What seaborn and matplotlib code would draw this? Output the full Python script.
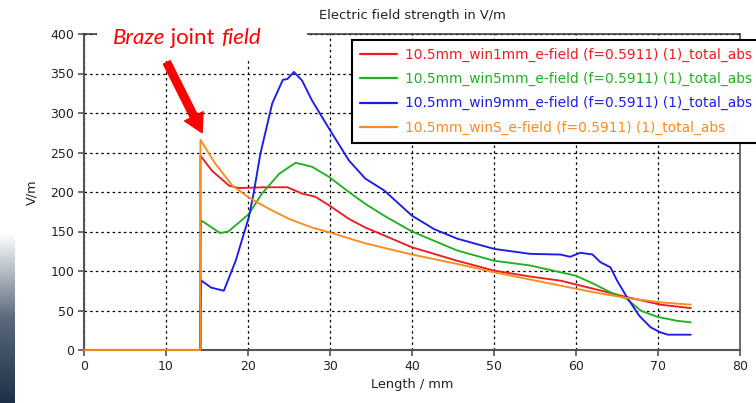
import numpy as np
import pandas as pd
import matplotlib
matplotlib.use("Agg")
import matplotlib.pyplot as plt
import seaborn as sns
from matplotlib.patches import Rectangle
from matplotlib.colors import LinearSegmentedColormap

# ---------------- data ----------------
labels = [
    "10.5mm_win1mm_e-field (f=0.5911) (1)_total_abs",
    "10.5mm_win5mm_e-field (f=0.5911) (1)_total_abs",
    "10.5mm_win9mm_e-field (f=0.5911) (1)_total_abs",
    "10.5mm_winS_e-field (f=0.5911) (1)_total_abs",
]
colors = ["#ec1c24", "#22b022", "#1c1ce6", "#ff8a1e"]

red_x = [0, 14.2, 14.2, 15.6, 17.7, 18.9, 22, 24.8, 26.6, 28.2, 29.9, 32.3, 34.3,
         36.6, 40, 45.5, 50, 54.4, 58.1, 62.2, 66.2, 70.3, 74]
red_y = [0, 0, 246, 227, 208, 205, 206, 206, 198, 194, 183, 166, 155,
         145, 130, 113, 100.5, 93, 87.8, 77.3, 67, 57.4, 53]

green_x = [0, 14.2, 14.2, 14.3, 16.6, 17.6, 20.1, 21.7, 23.8, 25.8, 27.8, 29.9, 32.3,
           34.3, 36.6, 40, 45.5, 50, 54.4, 58.1, 60, 62.2, 64.2, 66.2, 67.9, 69.9, 72.3, 74]
green_y = [0, 0, 130, 164, 148, 150, 172, 198, 223, 237, 232, 219, 200,
           185, 170, 150, 126, 113, 107, 98.4, 94, 83.6, 73, 64.6, 49.8, 42, 37, 35]

blue_x = [0, 14.2, 14.2, 14.3, 15.5, 17.05, 18.5, 20.1, 20.7, 21.5, 22.95, 24.25, 24.8,
          25.6, 26.6, 27.8, 29.9, 32.3, 34.3, 36.6, 40, 42.7, 45.5, 50, 54.4, 58.1,
          59.3, 60.5, 62, 63, 64.2, 65, 66.2, 67.7, 69.1, 70.3, 71.2, 74]
blue_y = [0, 0, 45, 88, 79, 75, 113, 168, 199, 248, 312, 342, 343,
          352, 341, 316, 280, 240, 217, 202, 170, 153, 141, 128, 121.7, 120.8,
          118, 123, 121, 111, 104.7, 88, 67, 43.5, 28.7, 22.3, 19.4, 19.4]

orange_x = [0, 14.2, 14.2, 16.0, 18.1, 20.1, 22.5, 25, 27.8, 29.9, 34.3, 40, 45.5,
            50, 58.1, 62.2, 66.2, 70.3, 74]
orange_y = [0, 0, 266, 236, 208, 193, 179, 166, 155, 149, 135, 120.8, 109,
            98.4, 81.5, 73, 65.8, 60.3, 57.4]

x_ticks = [0, 10, 20, 30, 40, 50, 60, 70, 80]
y_ticks = [0, 50, 100, 150, 200, 250, 300, 350, 400]

title_text = "Electric field strength in V/m"
xlabel_text = "Length / mm"
ylabel_text = "V/m"
annot_parts = [("Braze", "italic"), (" joint ", "normal"), ("field", "italic")]
arrow_tail = (10.1, 364)
arrow_tip = (14.4, 275)

# ---------------- build frame ----------------
series = [(red_x, red_y), (green_x, green_y), (blue_x, blue_y), (orange_x, orange_y)]
frames = []
for lab, (xs, ys) in zip(labels, series):
    frames.append(pd.DataFrame({"Length": xs, "Value": ys, "series": lab}))
df = pd.concat(frames, ignore_index=True)

sns.set_theme(style="white")
plt.rcParams["font.family"] = ["DejaVu Sans"]

fig = plt.figure(figsize=(7.56, 4.03), dpi=100)
ax = fig.add_axes([84 / 756, 1 - 350 / 403, (740 - 84) / 756, (350 - 34) / 403])

sns.lineplot(data=df, x="Length", y="Value", hue="series", hue_order=labels,
             palette=dict(zip(labels, colors)), estimator=None, sort=False,
             linewidth=1.35, ax=ax)
for ln in ax.get_lines():
    ln.set_zorder(3)
    ln.set_clip_on(False)

ax.set_xlim(0, 80)
ax.set_ylim(0, 400)
ax.set_xticks(x_ticks)
ax.set_yticks(y_ticks)
ax.tick_params(axis="both", direction="out", length=4, width=1.2, colors="#555555",
               labelsize=9, labelcolor="#222222", bottom=True, left=True, pad=3)
ax.grid(True, color="black", linestyle=(0, (2, 2.5)), linewidth=0.9)
ax.set_axisbelow(True)
for s in ax.spines.values():
    s.set_visible(True)
    s.set_color("#555555")
    s.set_linewidth(1.5)
ax.spines["top"].set_color("#333333")
ax.spines["top"].set_linewidth(1.1)
ax.spines["right"].set_color("#444444")
ax.spines["right"].set_linewidth(1.1)

ax.set_xlabel(xlabel_text, fontsize=9.3, color="#222222", labelpad=4)
ax.set_ylabel(ylabel_text, fontsize=9.3, color="#222222", labelpad=9)
ax.set_title(title_text, fontsize=9.4, color="#222222", pad=11)

# legend (its frame runs past the right edge of the figure, as in the source)
leg_top = 1 - 40 / 403
leg = ax.legend(loc="upper left",
                bbox_to_anchor=(352 / 756, leg_top - 0.3, 420 / 756, 0.3),
                bbox_transform=fig.transFigure, mode="expand",
                fontsize=9.9, frameon=True,
                fancybox=False, framealpha=1, edgecolor="black", facecolor="white",
                handlelength=2.7, handletextpad=0.55, labelspacing=0.72,
                borderpad=0.6, borderaxespad=0)
leg.get_frame().set_linewidth(1.5)
leg.set_zorder(8)
for t, l in zip(leg.get_texts(), leg.get_lines()):
    t.set_color(l.get_color())
    l.set_linewidth(1.6)

# white box behind annotation
fig.add_artist(Rectangle((97 / 756, 1 - 58 / 403), 210 / 756, 40 / 403,
                         transform=fig.transFigure, facecolor="white",
                         edgecolor="none", zorder=5))

# annotation text with mixed styles
fig.canvas.draw()
renderer = fig.canvas.get_renderer()
xpix = 113
for txt, style in annot_parts:
    t = fig.text(xpix / 756, 1 - 38 / 403, txt, fontsize=16, style=style,
                 color="#ff0000", family="Lato", va="center", ha="left", zorder=6)
    bb = t.get_window_extent(renderer)
    xpix += bb.width

ax.annotate("", xy=arrow_tip, xytext=arrow_tail, xycoords="data", textcoords="data",
            arrowprops=dict(arrowstyle="simple,head_length=1.2,head_width=1.35,tail_width=0.5",
                            color="#ff0000", mutation_scale=11, shrinkA=0, shrinkB=0),
            annotation_clip=False, zorder=7)

# gradient strip on the left edge
gax = fig.add_axes([0, 0, 15 / 756, 170 / 403])
grad = np.linspace(0, 1, 256).reshape(-1, 1)
cmap = LinearSegmentedColormap.from_list("g", ["#1f2f45", "#5a6a7c", "#ffffff"])
gax.imshow(grad, aspect="auto", cmap=cmap, origin="lower")
gax.set_axis_off()

fig.savefig("out.png", dpi=100)
